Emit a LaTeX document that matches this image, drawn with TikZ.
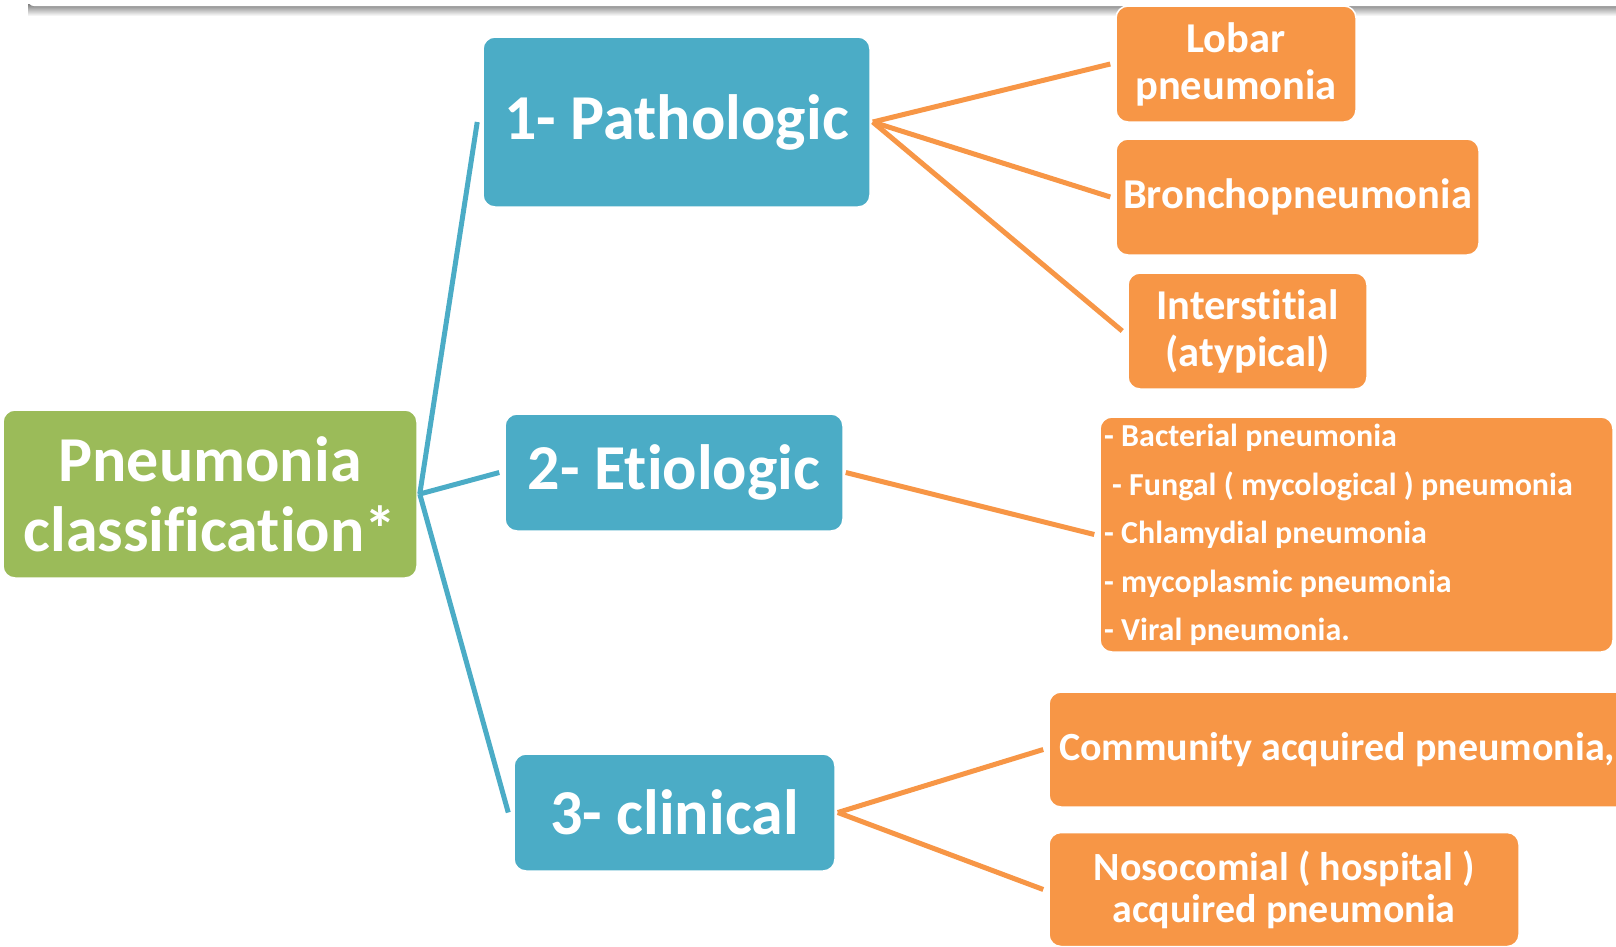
\documentclass[tikz,border=0pt]{standalone}
\usepackage{fontspec}
\setmainfont{Carlito}[Ligatures=NoCommon]
\definecolor{rootgreen}{HTML}{9BBB59}
\definecolor{catblue}{HTML}{4BACC6}
\definecolor{suborange}{HTML}{F79646}
\begin{document}
\begin{tikzpicture}[x=1pt, y=-1pt,
  box/.style={rectangle, rounded corners=12pt, draw=white, line width=1.5pt,
    text=white, align=center, inner sep=0pt},
  rootbox/.style={box, fill=rootgreen, font=\bfseries\fontsize{64}{70}\selectfont},
  catbox/.style={box, fill=catblue, font=\bfseries\fontsize{64}{70}\selectfont},
  subbox/.style={box, fill=suborange, font=\bfseries\fontsize{42.5}{47}\selectfont},
  listline/.style={text=white, inner sep=0pt, anchor=base west,
    font=\bfseries\fontsize{32}{36}\selectfont},
  catline/.style={catblue, line width=5pt},
  subline/.style={suborange, line width=5pt}]
\useasboundingbox (0,0) rectangle (1616,946);
\clip (0,0) rectangle (1616,946);

% Draw slide bar at the top
\shade[top color=black!50, bottom color=white] (28,4) rectangle (1616,16);
\fill[white, rounded corners=6pt] (28,-20) rectangle (1640,6);

% Draw root and categories
\node[rootbox, minimum width=414pt, minimum height=168pt] (root) at (210,494) {Pneumonia\\classification*};
\node[catbox, minimum width=387pt, minimum height=170pt] (patho) at (676.5,122) {1- Pathologic};
\node[catbox, minimum width=338pt, minimum height=117pt] (etio) at (674,472.5) {2- Etiologic};
\node[catbox, minimum width=321pt, minimum height=117pt] (clin) at (674.5,812.5) {3- clinical};

% Pathologic types
\node[subbox, minimum width=240pt, minimum height=116pt] (lobar) at (1236,64) {Lobar\\pneumonia};
\node[subbox, minimum width=363pt, minimum height=116pt] (broncho) at (1297.5,197) {Bronchopneumonia};
\node[subbox, minimum width=239pt, minimum height=116pt] (inter) at (1247.5,331) {Interstitial\\(atypical)};

% Etiologic types
\node[subbox, minimum width=513pt, minimum height=235pt] (etiolist) at (1356.5,534.5) {};
\node[listline] (bact) at (1104,446) {- Bacterial pneumonia};
\node[listline] (fung) at (1112,495) {- Fungal ( mycological ) pneumonia};
\node[listline] (chla) at (1104,543) {- Chlamydial pneumonia};
\node[listline] (myco) at (1104,592) {- mycoplasmic pneumonia};
\node[listline] (vira) at (1104,640) {- Viral pneumonia.};

% Clinical types
\node[subbox, minimum width=582pt, minimum height=115pt, font=\bfseries\fontsize{40}{47}\selectfont] (commun) at (1340,749.5) {\hspace*{-6pt}Community acquired pneumonia,};
\node[subbox, minimum width=470pt, minimum height=114pt, font=\bfseries\fontsize{40}{42}\selectfont] (noso) at (1284,889.5) {Nosocomial ( hospital )\\acquired pneumonia};

% Connect root to categories
\draw[catline] ([xshift=2pt]root.east) -- ([xshift=-5pt]patho.west);
\draw[catline] ([xshift=2pt]root.east) -- ([xshift=-5pt]etio.west);
\draw[catline] ([xshift=2pt]root.east) -- ([xshift=-5pt]clin.west);

% Connect categories to types
\draw[subline] ([xshift=2pt]patho.east) -- ([xshift=-5pt]lobar.west);
\draw[subline] ([xshift=2pt]patho.east) -- ([xshift=-5pt]broncho.west);
\draw[subline] ([xshift=2pt]patho.east) -- ([xshift=-5pt]inter.west);
\draw[subline] ([xshift=2pt]etio.east) -- ([xshift=-5pt]etiolist.west);
\draw[subline] ([xshift=2pt]clin.east) -- ([xshift=-5pt]commun.west);
\draw[subline] ([xshift=2pt]clin.east) -- ([xshift=-5pt]noso.west);

\end{tikzpicture}
\end{document}
